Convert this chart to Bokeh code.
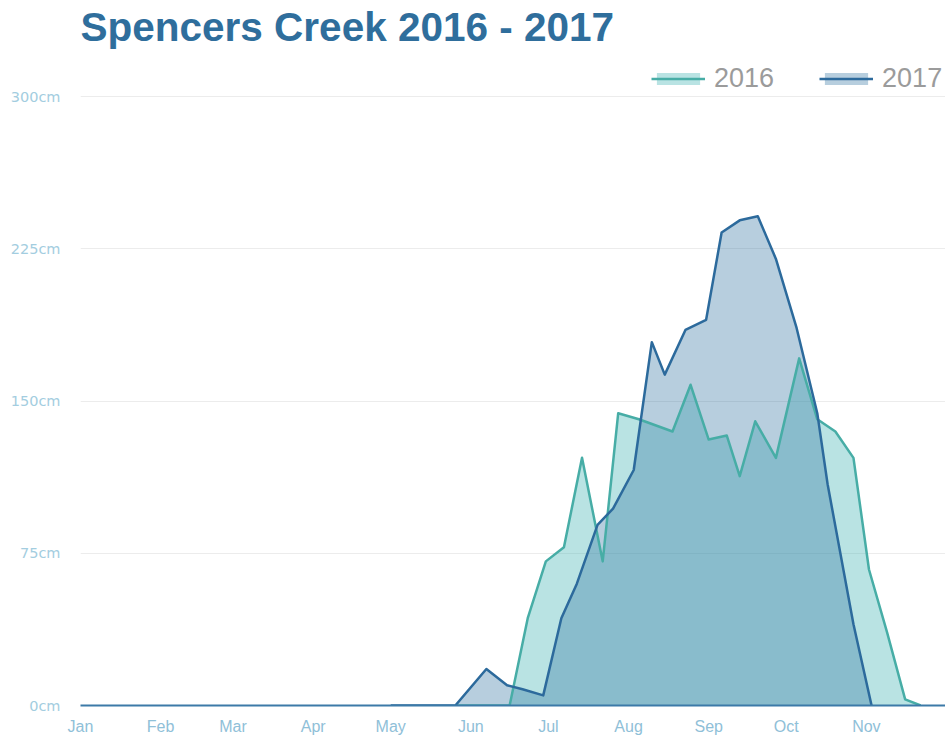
import pandas as pd
from bokeh.plotting import figure
from bokeh.models import (FixedTicker, DatetimeTickFormatter, PrintfTickFormatter,
                          Label, Legend, LegendItem, Range1d, ColumnDataSource)
from bokeh.embed import file_html
from bokeh.resources import INLINE

# ---------------- data (month-day of each reading, depth in cm) ----------------
dates_2016 = ["05-26", "06-16", "06-23", "06-30", "07-07", "07-14", "07-22", "07-28",
              "08-05", "08-18", "08-25", "09-01", "09-08", "09-13", "09-19", "09-27",
              "10-06", "10-13", "10-20", "10-27", "11-02", "11-09", "11-16", "11-22"]
depth_2016 = [0, 0, 43, 71, 78, 122, 71, 144,
              141, 135, 158, 131, 133, 113, 140, 122,
              171, 141, 135, 122, 67, 36, 3, 0]

dates_2017 = ["05-01", "05-26", "06-07", "06-15", "06-21", "06-29", "07-06", "07-12",
              "07-20", "07-26", "08-03", "08-10", "08-15", "08-23", "08-31", "09-06",
              "09-13", "09-20", "09-27", "10-05", "10-13", "10-17", "10-27", "11-03"]
depth_2017 = [0, 0, 18, 10, 8, 5, 43, 60,
              89, 97, 116, 179, 163, 185, 190, 233,
              239, 241, 220, 186, 144, 109, 40, 0]

month_labels = ["Jan", "Feb", "Mar", "Apr", "May", "Jun", "Jul", "Aug", "Sep", "Oct", "Nov"]
y_ticks = [0, 75, 150, 225, 300]
title_text = "Spencers Creek 2016 - 2017"
series_names = ["2016", "2017"]

# common calendar year for overlaying both seasons
BASE = "2017"
def to_dt(md_list):
    return pd.to_datetime([f"{BASE}-{md}" for md in md_list])

def ms(ts):
    return pd.Timestamp(ts).value / 1e6

src16 = ColumnDataSource(dict(x=to_dt(dates_2016), y=depth_2016))
src17 = ColumnDataSource(dict(x=to_dt(dates_2017), y=depth_2017))

month_ticks = [ms(f"{BASE}-{i+1:02d}-01") for i in range(len(month_labels))]

x_start = ms(f"{BASE}-01-01")
x_end = x_start + 334.6 * 86400000

p = figure(width=945, height=737, x_axis_type="datetime",
           output_backend="svg", toolbar_location=None,
           x_range=Range1d(x_start, x_end), y_range=Range1d(0, 347.3),
           min_border_left=80, min_border_right=0, min_border_top=0, min_border_bottom=32)
p.outline_line_color = None
p.background_fill_color = "white"
p.border_fill_color = "white"

# grid
p.xgrid.grid_line_color = None
p.ygrid.grid_line_color = "#ececec"
p.ygrid.grid_line_width = 1

# axes
p.xaxis.ticker = FixedTicker(ticks=month_ticks)
p.xaxis.formatter = DatetimeTickFormatter(months="%b", days="%b", years="%b")
p.xaxis.axis_line_color = "#3c7aa8"
p.xaxis.axis_line_width = 2
p.xaxis.major_tick_line_color = None
p.xaxis.minor_tick_line_color = None
p.xaxis.major_tick_out = 0
p.xaxis.major_tick_in = 0
p.xaxis.major_label_standoff = 12
p.xaxis.major_label_text_font = "Liberation Sans"
p.xaxis.major_label_text_font_size = "16px"
p.xaxis.major_label_text_color = "#8fc0d8"

p.yaxis.ticker = FixedTicker(ticks=y_ticks)
p.yaxis.formatter = PrintfTickFormatter(format="%dcm")
p.yaxis.axis_line_color = None
p.yaxis.major_tick_line_color = None
p.yaxis.minor_tick_line_color = None
p.yaxis.major_label_standoff = 14
p.yaxis.major_label_text_font = "DejaVu Sans"
p.yaxis.major_label_text_font_size = "14.5px"
p.yaxis.major_label_text_color = "#a3cde0"

# areas
a16 = p.varea(x="x", y1=0, y2="y", source=src16, fill_color=(80, 185, 185), fill_alpha=0.4)
a17 = p.varea(x="x", y1=0, y2="y", source=src17, fill_color=(50, 115, 160), fill_alpha=0.35)
l16 = p.line(x="x", y="y", source=src16, line_color="#47ada6", line_width=2.5, line_join="round")
l17 = p.line(x="x", y="y", source=src17, line_color="#2c6a9c", line_width=2.5, line_join="round")

# title
p.add_layout(Label(x=x_start, y=334.0, text=title_text, text_font="Liberation Sans",
                   text_font_style="bold", text_font_size="40.5px", text_color="#2f6e9c",
                   text_baseline="alphabetic", text_align="left"))

legend = Legend(items=[LegendItem(label=series_names[0], renderers=[a16, l16]),
                       LegendItem(label=series_names[1], renderers=[a17, l17])],
                location=(571, 611), orientation="horizontal",
                glyph_width=54, glyph_height=15, label_standoff=9, spacing=45,
                padding=0, margin=0, border_line_color=None, background_fill_alpha=0,
                label_text_font="Liberation Sans", label_text_font_size="27px",
                label_text_color="#9b9b9b")
p.add_layout(legend)

open("out.html", "w").write(file_html(p, INLINE))
